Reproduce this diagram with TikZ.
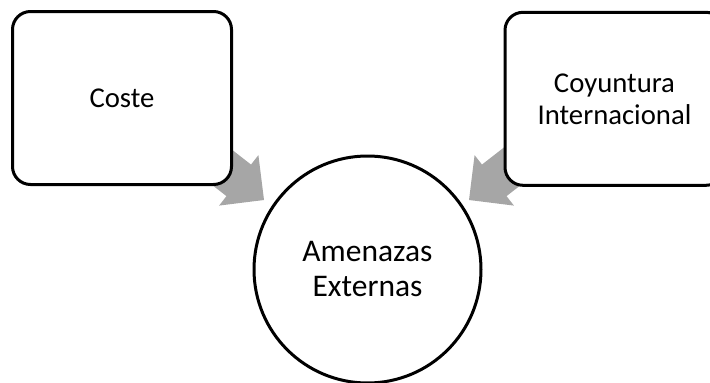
\documentclass[tikz,border=0pt]{standalone}
\usepackage{fontspec}
\setmainfont{Carlito}
\begin{document}
\begin{tikzpicture}[x=1pt,y=-1pt,
  box/.style={draw=black, line width=3pt, fill=white, rounded corners=18pt,
    minimum width=219pt, minimum height=173pt, inner sep=0pt, outer sep=0pt,
    align=center, font=\fontsize{28.7}{32}\selectfont},
  hub/.style={draw=black, line width=3pt, fill=white, circle,
    minimum size=227pt, inner sep=0pt, outer sep=0pt,
    align=center, font=\fontsize{31.5}{35}\selectfont},
  blockarrow/.style={fill=arrowgray, draw=none}]
\definecolor{arrowgray}{HTML}{A6A6A6}
\clip (0,0) rectangle (710,383);
\useasboundingbox (0,0) rectangle (710,383);

% block arrows pointing into the central circle (drawn first, under the boxes);
% local frame: tip at the origin, shaft along -x
\begin{scope}[shift={(264,200)}, rotate=-37.9]
  \coordinate (tipL) at (0,0);
  \fill[blockarrow] (tipL) -- (-32,32) -- (-32,20) -- (-92,20) -- (-92,-20)
    -- (-32,-20) -- (-32,-32) -- cycle;
\end{scope}
\begin{scope}[shift={(469,200)}, rotate=217.9]
  \coordinate (tipR) at (0,0);
  \fill[blockarrow] (tipR) -- (-32,32) -- (-32,20) -- (-92,20) -- (-92,-20)
    -- (-32,-20) -- (-32,-32) -- cycle;
\end{scope}

% source boxes
\node[box] (coste) at (122,98) {Coste};
\node[box] (coyuntura) at (614.5,98.8) {Coyuntura\\Internacional};

% central circle
\node[hub] (amenazas) at (367.5,269.5) {Amenazas\\Externas};
\end{tikzpicture}
\end{document}
